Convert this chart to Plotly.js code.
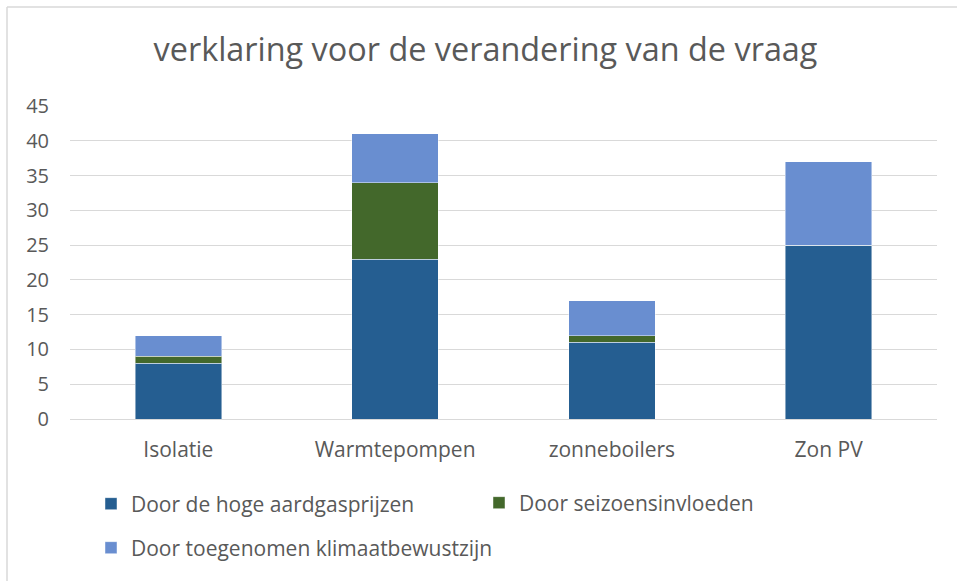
<!DOCTYPE html>
<html>
<head>
<meta charset="utf-8">
<script src="https://cdn.plot.ly/plotly-3.0.1.min.js"></script>
<style>html,body{margin:0;padding:0;background:#fff;}#chart{width:957px;height:581px;}</style>
</head>
<body>
<div id="chart"></div>
<script>
const categories = ["Isolatie", "Warmtepompen", "zonneboilers", "Zon PV"];
const seriesNames = ["Door de hoge aardgasprijzen", "Door seizoensinvloeden", "Door toegenomen klimaatbewustzijn"];
const aardgasprijzen = [8, 23, 11, 25];
const seizoensinvloeden = [1, 11, 1, 0];
const klimaatbewustzijn = [3, 7, 5, 12];
const yTicks = [0, 5, 10, 15, 20, 25, 30, 35, 40, 45];
const chartTitle = "verklaring voor de verandering van de vraag";

const W = 957, H = 581;
const M = {l: 70, r: 20, t: 106, b: 162};
const pw = W - M.l - M.r, ph = H - M.t - M.b;
const px = x => (x - M.l) / pw;
const py = y => (H - M.b - y) / ph;

const font = "Open Sans, Noto Sans, sans-serif";
const grey = "#595959";
const colors = ["#255E91", "#43682B", "#698ED0"];
const values = [aardgasprijzen, seizoensinvloeden, klimaatbewustzijn];
const legendIds = ["legend", "legend2", "legend3"];
const legendPos = [[91, 504], [479, 503], [91, 548]];

const traces = values.map((v, i) => ({
  type: "bar",
  x: categories,
  y: v,
  name: seriesNames[i],
  marker: {color: colors[i], line: {color: "rgba(255,255,255,0.45)", width: 1}},
  legend: legendIds[i],
  showlegend: true,
  hoverinfo: "skip"
}));

const layout = {
  width: W, height: H,
  margin: M,
  showlegend: true,
  paper_bgcolor: "#fff", plot_bgcolor: "#fff",
  barmode: "stack",
  bargap: 0.6,
  title: {text: chartTitle, font: {family: font, size: 32.4, color: grey}, x: 485.5 / W, xref: "container", xanchor: "center", y: 1 - 50 / H, yanchor: "middle"},
  xaxis: {
    type: "category",
    showgrid: false,
    showline: true, linecolor: "#d9d9d9", linewidth: 1,
    ticks: "", ticklabelstandoff: 12,
    tickfont: {family: font, size: 21, color: grey}
  },
  yaxis: {
    range: [0, 45], tickvals: yTicks, ticktext: yTicks.map(String),
    showgrid: true, gridcolor: "#d9d9d9", gridwidth: 1,
    zeroline: false, showline: false,
    ticks: "", ticklabelstandoff: 20,
    tickfont: {family: font, size: 20, color: grey}
  },
  shapes: [
    {type: "line", xref: "paper", yref: "paper", x0: px(7), x1: px(960), y0: py(7), y1: py(7), line: {color: "#d9d9d9", width: 1.5}},
    {type: "line", xref: "paper", yref: "paper", x0: px(7), x1: px(7), y0: py(7), y1: py(590), line: {color: "#d9d9d9", width: 1.5}}
  ]
};
legendIds.forEach((id, i) => {
  layout[id] = {
    orientation: "h", x: px(legendPos[i][0]), xanchor: "left", y: py(legendPos[i][1]), yanchor: "middle",
    font: {family: font, size: 21, color: grey}, bgcolor: "rgba(0,0,0,0)"
  };
});

Plotly.newPlot("chart", traces, layout, {displayModeBar: false, staticPlot: true});
</script>
</body>
</html>
